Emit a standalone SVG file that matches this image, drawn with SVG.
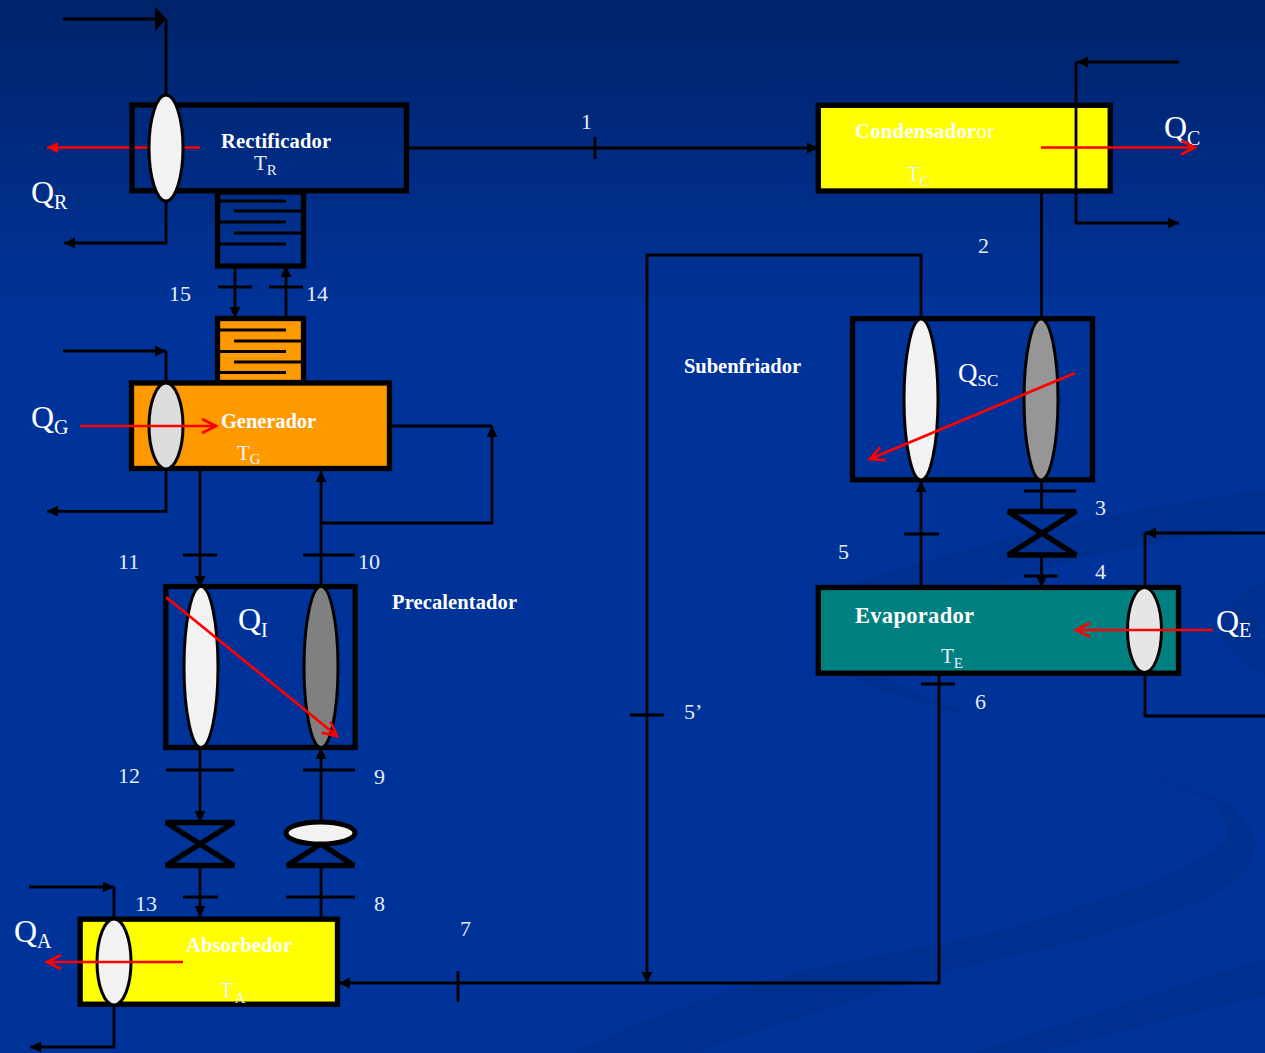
<svg xmlns="http://www.w3.org/2000/svg" width="1265" height="1053" viewBox="0 0 1265 1053">
<defs>
<linearGradient id="bg" x1="0" y1="0" x2="0" y2="1"><stop offset="0" stop-color="#00236a"/><stop offset="0.3" stop-color="#003399"/><stop offset="1" stop-color="#003399"/></linearGradient>
<marker id="a" markerUnits="userSpaceOnUse" markerWidth="12" markerHeight="12" refX="11" refY="5.500" orient="auto"><path d="M0 0L11 5.500L0 11Z" fill="#000"/></marker>
<marker id="big" markerUnits="userSpaceOnUse" markerWidth="12" markerHeight="26" refX="11" refY="12.500" orient="auto"><path d="M0 0L11 12.500L0 25Z" fill="#000"/></marker>
<marker id="r" markerUnits="userSpaceOnUse" markerWidth="18" markerHeight="18" refX="15" refY="8" orient="auto"><path d="M1 1L15 8L1 15" fill="none" stroke="#f00" stroke-width="2.700"/></marker>
<marker id="rs" markerUnits="userSpaceOnUse" markerWidth="12" markerHeight="12" refX="11" refY="5.500" orient="auto"><path d="M0 0L11 5.500L0 11Z" fill="#f00"/></marker>
</defs>
<style>
text{font-family:"Liberation Serif","Times New Roman",serif;fill:#fff}
.n{font-size:22px;fill:#e6ebf5}
.b{font-size:20.500px;font-weight:bold}
.l{font-weight:normal}
.q{font-size:32px}
.q2{font-size:20px}
.t{font-size:21px;fill:#eef2fa}
.t2{font-size:15px}
.box{stroke:#000;stroke-width:5.300}
.w{fill:none;stroke:#000;stroke-width:2.800}
.h{fill:none;stroke:#000;stroke-width:2.800;marker-end:url(#a)}
.e{stroke:#000;stroke-width:3}
.red{fill:none;stroke:#f00;stroke-width:2.700}
.v{fill:none;stroke:#000;stroke-width:5.300;stroke-linejoin:bevel}
</style>
<rect width="1265" height="1053" fill="url(#bg)"/>
<path d="M851 675L880 675C930 705 1040 735 1115 763L1222 800C1245 815 1260 835 1254 853C1250 870 1240 878 1232 883C1200 905 1150 920 1105 933C1050 950 990 960 939 973C860 1000 770 1025 695 1053H573C640 1020 700 1000 768 980C860 955 960 945 1037 920C1100 900 1170 880 1202 857C1225 845 1232 835 1227 827C1222 815 1215 805 1217 803C1190 790 1150 780 1110 760C1050 735 990 720 939 708C900 695 870 690 851 675Z" fill="#00308f"/>
<path d="M850 585C933 557 1067 517 1265 490V528C1143 540 1033 567 950 600ZM1265 580C1235 595 1215 615 1220 633C1225 650 1245 665 1265 677ZM1265 958L973 1053H1036L1265 995Z" fill="#00308f"/>
<g id="connectors">
<path class="w" style="marker-end:url(#big)" d="M63 19H166"/><path class="w" d="M166 19V100"/>
<path class="h" d="M166 200V243H64"/>
<path class="h" d="M408 148H818"/><path class="w" d="M595 137V159"/>
<path class="h" d="M235 266V318"/><path class="w" d="M218 287H252"/>
<path class="h" d="M286 318V266"/><path class="w" d="M269 287H303"/>
<path class="h" d="M63 351H166"/><path class="w" d="M166 351V385"/>
<path class="h" d="M166 468V511.300H47"/>
<path class="h" d="M200 470V587"/><path class="w" d="M183 555H217"/>
<path class="h" d="M321 587V471"/><path class="w" d="M303 555H355"/>
<path class="w" d="M390 426H492"/>
<path class="h" d="M321 523H492V426"/>
<path class="w" d="M166 770H234"/><path class="h" d="M200 748V822"/>
<path class="h" d="M321 822V748"/><path class="w" d="M303 770H355"/>
<path class="h" d="M200 866V917"/><path class="w" d="M183 897H218"/>
<path class="w" d="M321 866V918M286 897H355"/>
<path class="h" d="M29 887H114"/><path class="w" d="M114 887V920"/>
<path class="h" d="M114 1004V1047H30"/>
<path class="h" d="M939 675V983H339"/><path class="w" d="M458 971V1002"/><path class="w" d="M921 684H955"/>
<path class="h" d="M921 320V255H647V983"/><path class="w" d="M630 715H664"/>
<path class="w" d="M1041.500 192V320"/>
<path class="w" d="M1041.500 480V512M1024 491H1076"/>
<path class="h" d="M1041.500 555V587"/><path class="w" d="M1024 576H1058"/>
<path class="h" d="M921 587V481"/><path class="w" d="M904 534H939"/>
<path class="h" d="M1179 62H1077"/>
</g>
<g id="rectificador">
<path class="red" style="marker-end:url(#rs)" d="M200 147.500H47"/>
<rect class="box" x="132" y="105" width="274.500" height="85.700" fill="none"/>
<ellipse class="e" cx="166" cy="148" rx="17" ry="53" fill="#f2f2f2"/>
<text class="b" x="221" y="148" textLength="110">Rectificador</text>
<text class="t" x="254" y="170">T<tspan class="t2" dy="5">R</tspan></text>
</g>
<g id="qr"><text class="q" x="31" y="203">Q<tspan class="q2" dy="6">R</tspan></text></g>
<g id="col-r"><rect class="box" x="217.500" y="192" width="86" height="74" fill="none"/><path class="w" d="M220 201H286M234 211H301M220 222H286M234 233H301M220 244H286"/></g>
<g id="col-g"><rect class="box" x="217.500" y="318.500" width="86" height="64" fill="#f90"/><path class="w" d="M220 330H286M234 341H301M220 351.500H286M234 362H301M220 372.500H286"/></g>
<g id="generador">
<rect class="box" x="131.500" y="383" width="258" height="85.500" fill="#f90"/>
<ellipse class="e" cx="166" cy="426" rx="17" ry="43" fill="#ddd"/>
<path class="red" style="marker-end:url(#r)" d="M80 426H216"/>
<text class="b" x="221" y="427.500" textLength="95">Generador</text>
<text class="t" x="237" y="460">T<tspan class="t2" dy="4">G</tspan></text>
</g>
<g id="qg"><text class="q" x="31" y="428">Q<tspan class="q2" dy="6">G</tspan></text></g>
<g id="precalentador">
<rect class="box" x="165.800" y="586.500" width="189.400" height="161" fill="none"/>
<ellipse class="e" cx="201" cy="667" rx="17" ry="80.500" fill="#f2f2f2"/>
<ellipse class="e" cx="321" cy="667" rx="17" ry="80.500" fill="#808080"/>
<path class="red" style="marker-end:url(#r)" d="M166 597L337 736"/>
<text class="q" x="238" y="630">Q<tspan class="q2" dy="7">I</tspan></text>
<text class="b" x="392" y="609" textLength="125">Precalentador</text>
</g>
<g id="valve-1"><path class="v" d="M166 822.500H234L166 865.500H234Z"/></g>
<g id="valve-2"><path class="v" d="M321 844L287 865.500H354L321 844"/><ellipse cx="320.500" cy="833" rx="34.500" ry="11" fill="#f2f2f2" stroke="#000" stroke-width="5"/></g>
<g id="absorbedor">
<rect class="box" x="80.200" y="919.200" width="257.300" height="85" fill="#ff0"/>
<ellipse class="e" cx="114" cy="962" rx="17" ry="43" fill="#f2f2f2"/>
<path class="red" style="marker-end:url(#r)" d="M183 962H47"/>
<text class="b" x="186" y="952" textLength="106">Absorbedor</text>
<text class="t" x="220" y="997">T<tspan class="t2" dx="2" dy="6">A</tspan></text>
</g>
<g id="qa"><text class="q" x="14" y="942">Q<tspan class="q2" dy="6">A</tspan></text></g>
<g id="condensador">
<rect class="box" x="818.300" y="105.300" width="291.900" height="85.700" fill="#ff0"/>
<text class="b" x="855" y="138" textLength="139">Condensador<tspan class="l">or</tspan></text>
<text class="t" x="907" y="181">T<tspan class="t2" dy="5">C</tspan></text>
</g>
<g id="qc"><text class="q" x="1164" y="138">Q<tspan class="q2" dy="7">C</tspan></text></g>
<g id="cooling-c">
<path class="h" d="M1076 62V223H1179"/>
<path class="red" style="marker-end:url(#r)" d="M1041 147.500H1195"/>
</g>
<g id="subenfriador">
<rect class="box" x="852.500" y="318.700" width="240" height="161.100" fill="none"/>
<ellipse class="e" cx="921" cy="399.500" rx="17" ry="80.500" fill="#f2f2f2"/>
<ellipse class="e" cx="1041" cy="399.500" rx="17" ry="80.500" fill="#969696"/>
<path class="red" style="marker-end:url(#r)" d="M1075 373L870 459"/>
<text class="q" style="font-size:27px" x="958" y="382">Q<tspan style="font-size:17px" dy="4">SC</tspan></text>
<text class="b" x="684" y="373" textLength="117">Subenfriador</text>
</g>
<g id="valve-3"><path class="v" d="M1008 511.500H1076L1008 555H1076Z"/></g>
<g id="evaporador">
<rect class="box" x="818.300" y="587.500" width="360.200" height="85.700" fill="#008080"/>
<ellipse class="e" cx="1144.500" cy="630" rx="17" ry="42.500" fill="#e6e6e6"/>
<path class="red" style="marker-end:url(#r)" d="M1213 630H1076"/>
<text class="b" style="font-size:22.500px" x="855" y="623" textLength="119">Evaporador</text>
<text class="t" x="941" y="663">T<tspan class="t2" dy="5">E</tspan></text>
</g>
<g id="evap-feed"><path class="h" d="M1265 533H1145"/><path class="w" d="M1145 533V588"/><path class="w" d="M1145 672V716H1265"/></g>
<g id="qe"><text class="q" x="1216" y="632">Q<tspan class="q2" dy="5">E</tspan></text></g>
<g id="labels">
<text class="n" x="581" y="129">1</text><text class="n" x="978" y="253">2</text><text class="n" x="1095" y="515">3</text><text class="n" x="1095" y="579">4</text><text class="n" x="838" y="559">5</text><text class="n" x="684" y="719">5’</text><text class="n" x="975" y="709">6</text><text class="n" x="460" y="936">7</text><text class="n" x="374" y="911">8</text><text class="n" x="374" y="784">9</text><text class="n" x="358" y="569">10</text><text class="n" x="118" y="569">11</text><text class="n" x="118" y="783">12</text><text class="n" x="135" y="911">13</text><text class="n" x="306" y="301">14</text><text class="n" x="169" y="301">15</text>
</g>
</svg>
